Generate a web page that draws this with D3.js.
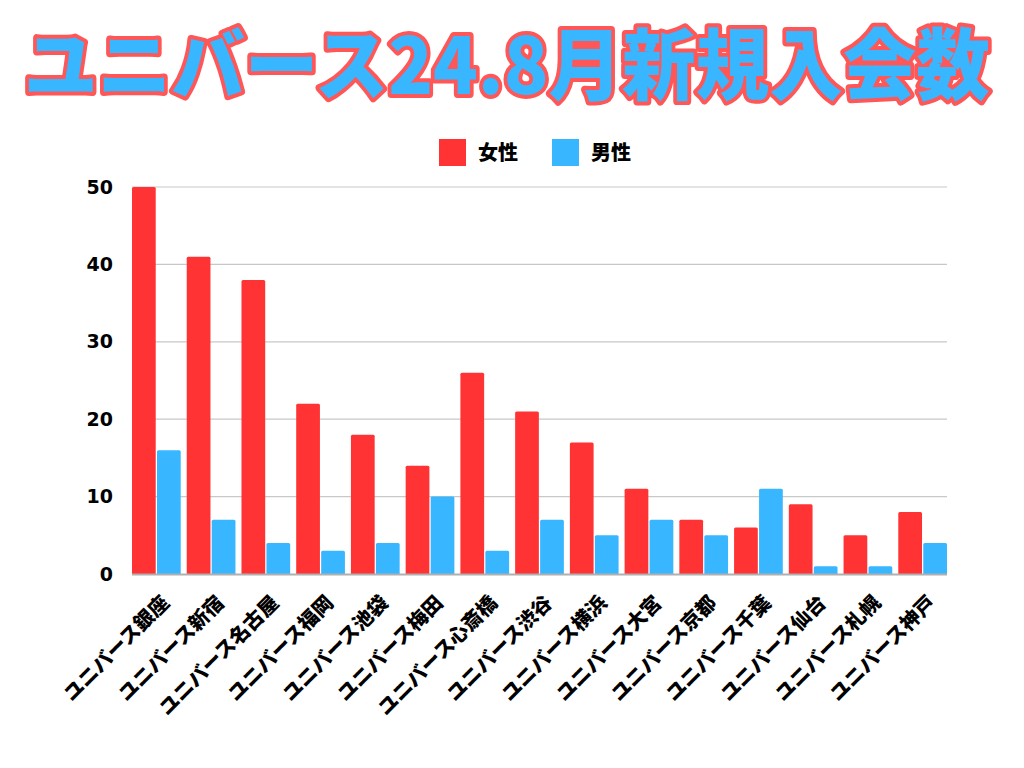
<!DOCTYPE html>
<html><head><meta charset="utf-8">
<script src="https://cdn.jsdelivr.net/npm/d3@7"></script>
<style>
body{margin:0;background:#fff;}
svg{display:block;}
</style></head>
<body>
<svg id="chart" width="1024" height="768"></svg>
<script>
const categories = ["ユニバース銀座","ユニバース新宿","ユニバース名古屋","ユニバース福岡","ユニバース池袋","ユニバース梅田","ユニバース心斎橋","ユニバース渋谷","ユニバース横浜","ユニバース大宮","ユニバース京都","ユニバース千葉","ユニバース仙台","ユニバース札幌","ユニバース神戸"];
const female = [50,41,38,22,18,14,26,21,17,11,7,6,9,5,8];
const male = [16,7,4,3,4,10,3,7,5,7,5,11,1,1,4];
const seriesNames = ["女性","男性"];
const yTicks = [0,10,20,30,40,50];
const titleText = "ユニバース24.8月新規入会数";

(function(){
const colors = ["#FF3333","#38B6FF"];
const svg = d3.select("#chart");
const font = "'Noto Sans CJK JP','Noto Sans',sans-serif";
const numFont = "'DejaVu Sans','Noto Sans',sans-serif";

const pL = 132, pR = 947, pT = 187, pB = 574;
const x = d3.scaleBand().domain(categories).range([pL,pR]).paddingInner(0.11).paddingOuter(0);
const xi = d3.scaleBand().domain(seriesNames).range([0,x.bandwidth()]).paddingInner(0.05);
const y = d3.scaleLinear().domain([0,50]).range([pB,pT]);

// gridlines
svg.append("g").selectAll("line").data(yTicks.filter(d=>d>0)).join("line")
  .attr("x1",pL).attr("x2",pR).attr("y1",d=>y(d)).attr("y2",d=>y(d))
  .attr("stroke","#c8c8c8").attr("stroke-width",1.2);

// y labels
const yAxis = d3.axisLeft(y).tickValues(yTicks).tickSize(0).tickPadding(19);
const ga = svg.append("g").attr("transform",`translate(${pL},0)`).call(yAxis);
ga.select(".domain").remove();
ga.selectAll("text").attr("font-family",numFont).attr("font-weight",700).attr("font-size",19).attr("fill","#000");

// bars
const data = categories.map((c,i)=>({c, vals:[female[i],male[i]]}));
const groups = svg.append("g").selectAll("g").data(data).join("g")
  .attr("transform",d=>`translate(${x(d.c)},0)`);
groups.selectAll("path").data(d=>d.vals.map((v,j)=>({v,s:seriesNames[j],j}))).join("path")
  .attr("fill",d=>colors[d.j])
  .attr("d",d=>{
    const x0 = xi(d.s), w = xi.bandwidth(), y0 = y(d.v), h = pB - y0, r = Math.min(1.5,h);
    return `M${x0},${pB}V${y0+r}Q${x0},${y0} ${x0+r},${y0}H${x0+w-r}Q${x0+w},${y0} ${x0+w},${y0+r}V${pB}Z`;
  });

// baseline
svg.append("line").attr("x1",pL).attr("x2",pR).attr("y1",pB+0.5).attr("y2",pB+0.5)
  .attr("stroke","#b0b0b0").attr("stroke-width",2);

// x labels
const xAxis = d3.axisBottom(x).tickSize(0);
const gx = svg.append("g").attr("transform",`translate(0,${pB})`).call(xAxis);
gx.select(".domain").remove();
gx.selectAll("text")
  .attr("font-family",font).attr("font-weight",900).attr("font-size",20).attr("fill","#000")
  .attr("text-anchor","end").attr("dy",null).attr("y",0)
  .attr("transform","translate(14,30) rotate(-45)");

// legend
const legend = svg.append("g");
const lx = [439,552];
seriesNames.forEach((s,i)=>{
  legend.append("rect").attr("x",lx[i]).attr("y",139).attr("width",27).attr("height",27).attr("fill",colors[i]);
  legend.append("text").attr("x",lx[i]+39).attr("y",160)
    .attr("font-family",font).attr("font-weight",900).attr("font-size",20).attr("fill","#000").text(s);
});

// title: measure natural width then scale horizontally to fit
const t = svg.append("text").attr("x",0).attr("y",0).attr("text-anchor","middle")
  .attr("font-family",font).attr("font-weight",900).attr("font-size",78)
  .attr("fill","#38B6FF").attr("stroke","#FF5757").attr("stroke-width",8)
  .attr("stroke-linejoin","round").attr("paint-order","stroke")
  .text(titleText);
const w = t.node().getComputedTextLength();
const sx = Math.min(1, 966 / w);
t.attr("transform",`translate(507,94) scale(${sx},1)`);
})();
</script>
</body></html>
